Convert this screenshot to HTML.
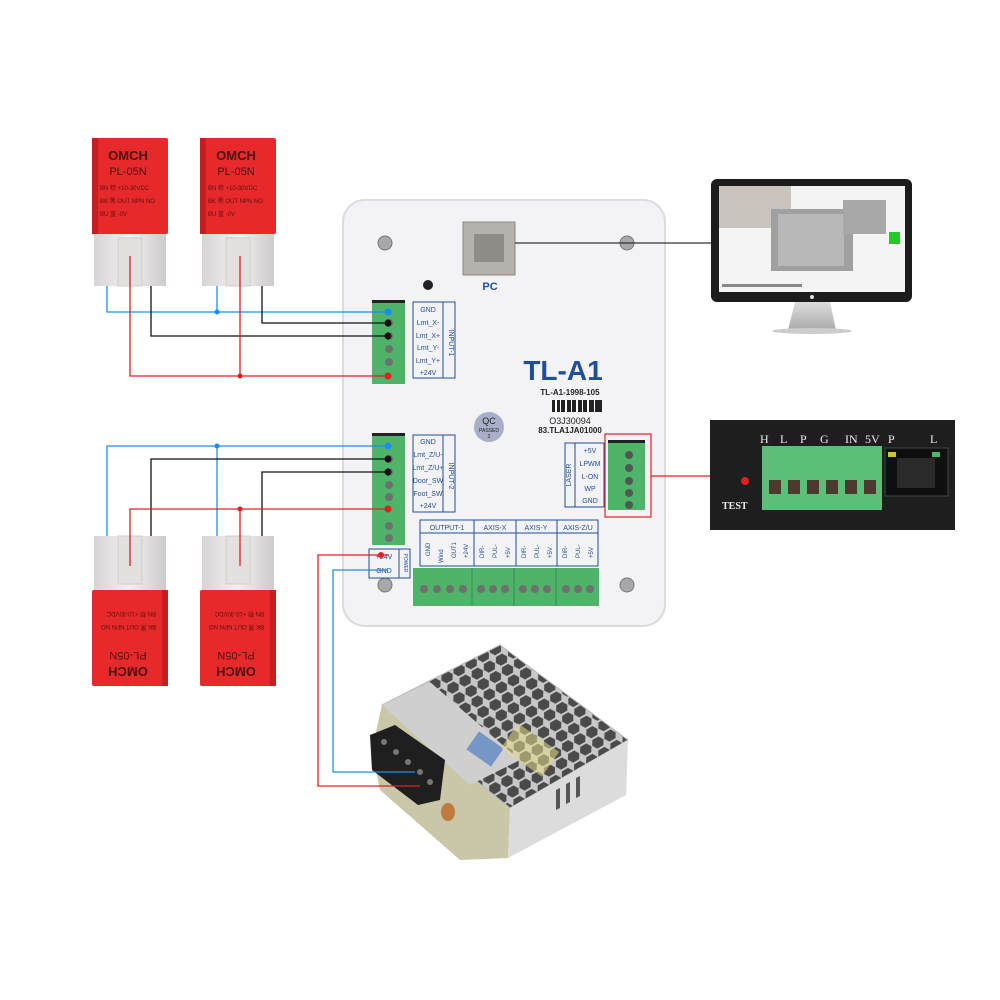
<!DOCTYPE html>
<html><head><meta charset="utf-8"><style>
html,body{margin:0;padding:0;background:#fff;width:1000px;height:1000px;overflow:hidden}
svg{display:block;font-family:"Liberation Sans",sans-serif}
</style></head><body>
<svg width="1000" height="1000" viewBox="0 0 1000 1000" xmlns="http://www.w3.org/2000/svg">
<defs>
<linearGradient id="clear" x1="0" y1="0" x2="1" y2="0"><stop offset="0" stop-color="#d8d4d6"/><stop offset=".5" stop-color="#f2f0f0"/><stop offset="1" stop-color="#cfcacc"/></linearGradient>
<linearGradient id="mon" x1="0" y1="0" x2="0" y2="1"><stop offset="0" stop-color="#ddd"/><stop offset="1" stop-color="#aaa"/></linearGradient>
<pattern id="hex" width="14" height="12" patternUnits="userSpaceOnUse" patternTransform="rotate(-30)">
<rect width="14" height="12" fill="#c8c8c8"/>
<polygon points="3,1 10,1 13,6 10,11 3,11 0,6" fill="#4a4a4a"/>
</pattern>
</defs>

<!-- Sensors top -->
<g id="s1">
<rect x="92" y="138" width="76" height="96" fill="#e8292c" rx="2"/>
<rect x="92" y="138" width="6" height="96" fill="#c51f22"/>
<text x="128" y="160" font-size="13" font-weight="bold" fill="#4a1010" text-anchor="middle">OMCH</text>
<text x="128" y="175" font-size="11" fill="#4a1010" text-anchor="middle">PL-05N</text>
<text x="100" y="190" font-size="6" fill="#5a1010">BN 棕 +10-30VDC</text>
<text x="100" y="203" font-size="6" fill="#5a1010">BK 黑 OUT NPN NO</text>
<text x="100" y="216" font-size="6" fill="#5a1010">BU 蓝 -0V</text>
<rect x="94" y="234" width="72" height="52" fill="url(#clear)"/>
<rect x="118" y="238" width="24" height="48" fill="#e4e0e0" stroke="#d0cccc"/>
</g>
<use href="#s1" x="108"/>

<!-- Sensors bottom -->
<g id="s3">
<rect x="94" y="536" width="72" height="56" fill="url(#clear)"/>
<rect x="118" y="536" width="24" height="48" fill="#e4e0e0" stroke="#d0cccc"/>
<rect x="92" y="590" width="76" height="96" fill="#e8292c" rx="2"/>
<rect x="162" y="590" width="6" height="96" fill="#c51f22"/>
<text x="128" y="675" font-size="13" font-weight="bold" fill="#4a1010" text-anchor="middle" transform="rotate(180 128 671)">OMCH</text>
<text x="128" y="660" font-size="11" fill="#4a1010" text-anchor="middle" transform="rotate(180 128 656)">PL-05N</text>
<text x="100" y="612" font-size="6" fill="#5a1010" transform="rotate(180 128 612)">BN 棕 +10-30VDC</text>
<text x="100" y="625" font-size="6" fill="#5a1010" transform="rotate(180 128 625)">BK 黑 OUT NPN NO</text>
</g>
<use href="#s3" x="108"/>

<!-- Controller -->
<rect x="343" y="200" width="322" height="426" rx="22" fill="#f3f3f5" stroke="#dcdce0" stroke-width="2"/>
<g fill="#a8a8a8" stroke="#777"><circle cx="385" cy="243" r="7"/><circle cx="627" cy="243" r="7"/><circle cx="385" cy="585" r="7"/><circle cx="627" cy="585" r="7"/></g>
<circle cx="428" cy="285" r="5" fill="#222"/>
<rect x="463" y="222" width="52" height="53" fill="#b5b2ad" stroke="#8a8782"/>
<rect x="474" y="234" width="30" height="28" fill="#8f8c88"/>
<text x="490" y="290" font-size="11" font-weight="bold" fill="#1f4e9a" text-anchor="middle">PC</text>
<text x="563" y="380" font-size="28" font-weight="bold" fill="#1f4e9a" text-anchor="middle">TL-A1</text>
<text x="570" y="395" font-size="8" font-weight="bold" fill="#222" text-anchor="middle">TL-A1-1998-105</text>
<g fill="#222"><rect x="552" y="400" width="50" height="12"/></g>
<g fill="#fff"><rect x="555" y="400" width="2" height="12"/><rect x="560" y="400" width="1" height="12"/><rect x="565" y="400" width="2" height="12"/><rect x="571" y="400" width="1" height="12"/><rect x="576" y="400" width="2" height="12"/><rect x="582" y="400" width="1" height="12"/><rect x="587" y="400" width="2" height="12"/><rect x="594" y="400" width="1" height="12"/></g>
<text x="570" y="424" font-size="9" fill="#222" text-anchor="middle">O3J30094</text>
<text x="570" y="433" font-size="8" font-weight="bold" fill="#222" text-anchor="middle">83.TLA1JA01000</text>
<circle cx="489" cy="427" r="15" fill="#a7b0c8"/>
<text x="489" y="424" font-size="9" fill="#222" text-anchor="middle">QC</text>
<text x="489" y="432" font-size="5" fill="#222" text-anchor="middle">PASSED</text>
<text x="489" y="438" font-size="5" fill="#222" text-anchor="middle">2</text>

<!-- Terminals input -->
<g fill="#4fb36a"><rect x="372" y="300" width="33" height="84"/><rect x="372" y="433" width="33" height="112"/></g>
<rect x="372" y="300" width="33" height="3" fill="#222"/><rect x="372" y="433" width="33" height="3" fill="#222"/>
<g fill="#707070">
<circle cx="389" cy="323" r="4"/><circle cx="389" cy="336" r="4"/><circle cx="389" cy="349" r="4"/><circle cx="389" cy="362" r="4"/>
<circle cx="389" cy="459" r="4"/><circle cx="389" cy="472" r="4"/><circle cx="389" cy="485" r="4"/><circle cx="389" cy="497" r="4"/>
<circle cx="389" cy="526" r="4"/><circle cx="389" cy="538" r="4"/></g>
<g font-size="7" fill="#1f4e9a" text-anchor="middle">
<rect x="413" y="302" width="30" height="76" fill="none" stroke="#1f4e9a"/><rect x="443" y="302" width="12" height="76" fill="none" stroke="#1f4e9a"/>
<text x="428" y="312">GND</text><text x="428" y="325">Lmt_X-</text><text x="428" y="338">Lmt_X+</text><text x="428" y="350">Lmt_Y-</text><text x="428" y="363">Lmt_Y+</text><text x="428" y="375">+24V</text>
<text x="452" y="340" transform="rotate(90 449 340)">INPUT-1</text>
<rect x="413" y="435" width="30" height="77" fill="none" stroke="#1f4e9a"/><rect x="443" y="435" width="12" height="77" fill="none" stroke="#1f4e9a"/>
<text x="428" y="444">GND</text><text x="428" y="457">Lmt_Z/U-</text><text x="428" y="470">Lmt_Z/U+</text><text x="428" y="483">Door_SW</text><text x="428" y="496">Foot_SW</text><text x="428" y="508">+24V</text>
<text x="452" y="473" transform="rotate(90 449 473)">INPUT-2</text>
<rect x="369" y="549" width="30" height="29" fill="none" stroke="#1f4e9a"/><rect x="399" y="549" width="11" height="29" fill="none" stroke="#1f4e9a"/>
<text x="384" y="559">+24V</text><text x="384" y="573">GND</text>
<text x="404" y="563" font-size="5" transform="rotate(90 404 563)">POWER</text>
<rect x="565" y="443" width="10" height="64" fill="none" stroke="#1f4e9a"/><rect x="575" y="443" width="29" height="64" fill="none" stroke="#1f4e9a"/>
<text x="590" y="453">+5V</text><text x="590" y="466">LPWM</text><text x="590" y="479">L-ON</text><text x="590" y="491">WP</text><text x="590" y="503">GND</text>
<text x="571" y="475" transform="rotate(-90 571 475)">LASER</text>
<rect x="420" y="520" width="178" height="46" fill="none" stroke="#1f4e9a"/>
<line x1="420" y1="533" x2="598" y2="533" stroke="#1f4e9a"/>
<line x1="474" y1="520" x2="474" y2="566" stroke="#1f4e9a"/><line x1="516" y1="520" x2="516" y2="566" stroke="#1f4e9a"/><line x1="557" y1="520" x2="557" y2="566" stroke="#1f4e9a"/>
<text x="447" y="530">OUTPUT-1</text><text x="495" y="530">AXIS-X</text><text x="536" y="530">AXIS-Y</text><text x="578" y="530">AXIS-Z/U</text>
</g>
<g font-size="6" fill="#1f4e9a">
<text transform="translate(430,556) rotate(-90)">GND</text><text transform="translate(443,563) rotate(-90)">Wind</text><text transform="translate(456,558) rotate(-90)">OUT1</text><text transform="translate(468,558) rotate(-90)">+24V</text>
<text transform="translate(484,558) rotate(-90)">DIR-</text><text transform="translate(497,558) rotate(-90)">PUL-</text><text transform="translate(510,558) rotate(-90)">+5V</text>
<text transform="translate(526,558) rotate(-90)">DIR-</text><text transform="translate(539,558) rotate(-90)">PUL-</text><text transform="translate(552,558) rotate(-90)">+5V</text>
<text transform="translate(567,558) rotate(-90)">DIR-</text><text transform="translate(580,558) rotate(-90)">PUL-</text><text transform="translate(593,558) rotate(-90)">+5V</text>
</g>
<rect x="413" y="568" width="186" height="38" fill="#4fb36a"/>
<g stroke="#3a8a50"><line x1="472" y1="568" x2="472" y2="606"/><line x1="514" y1="568" x2="514" y2="606"/><line x1="556" y1="568" x2="556" y2="606"/></g>
<g fill="#707070">
<circle cx="424" cy="589" r="4"/><circle cx="437" cy="589" r="4"/><circle cx="450" cy="589" r="4"/><circle cx="463" cy="589" r="4"/>
<circle cx="481" cy="589" r="4"/><circle cx="493" cy="589" r="4"/><circle cx="505" cy="589" r="4"/>
<circle cx="523" cy="589" r="4"/><circle cx="535" cy="589" r="4"/><circle cx="547" cy="589" r="4"/>
<circle cx="566" cy="589" r="4"/><circle cx="578" cy="589" r="4"/><circle cx="590" cy="589" r="4"/></g>
<rect x="608" y="440" width="37" height="70" fill="#4fb36a"/><rect x="608" y="440" width="37" height="3" fill="#222"/>
<g fill="#555"><circle cx="629" cy="455" r="4"/><circle cx="629" cy="468" r="4"/><circle cx="629" cy="481" r="4"/><circle cx="629" cy="493" r="4"/><circle cx="629" cy="505" r="4"/></g>
<rect x="605" y="434" width="46" height="83" fill="none" stroke="#e02020" stroke-width="1.2"/>

<!-- Power supply -->
<polygon points="372,750 382,705 510,808 508,858 460,860 380,790" fill="#c9c7a8"/>
<polygon points="382,705 500,645 628,740 510,808" fill="url(#hex)" stroke="#bbb"/>
<polygon points="382,705 430,682 520,760 470,785" fill="#cfcfcf"/>
<rect x="470" y="738" width="30" height="22" fill="#3a6fbf" opacity=".6" transform="rotate(35 485 749)"/>
<rect x="505" y="735" width="50" height="30" fill="#e6dc8a" opacity=".55" transform="rotate(35 530 750)"/>
<polygon points="510,808 628,740 626,795 508,858" fill="#dcdcdc"/>
<g fill="#555">
<polygon points="556,790 560,788 560,808 556,810"/>
<polygon points="566,784 570,782 570,802 566,804"/>
<polygon points="576,778 580,776 580,796 576,798"/>
</g>
<polygon points="370,735 395,725 445,760 440,800 418,805 372,770" fill="#1f1f1f"/>
<g fill="#777"><circle cx="384" cy="742" r="3"/><circle cx="396" cy="752" r="3"/><circle cx="408" cy="762" r="3"/><circle cx="420" cy="772" r="3"/><circle cx="430" cy="782" r="3"/></g>
<ellipse cx="448" cy="812" rx="7" ry="9" fill="#c07a40"/>

<!-- Wires -->
<g fill="none" stroke-width="1.3">
<polyline points="107,286 107,312 388,312" stroke="#1a8ef0"/>
<polyline points="217,286 217,312" stroke="#1a8ef0"/>
<polyline points="151,286 151,336 388,336" stroke="#111"/>
<polyline points="262,286 262,323 388,323" stroke="#111"/>
<polyline points="130,256 130,376 388,376" stroke="#e02020"/>
<polyline points="240,256 240,376" stroke="#e02020"/>
<polyline points="107,536 107,446 388,446" stroke="#1a8ef0"/>
<polyline points="217,536 217,446" stroke="#1a8ef0"/>
<polyline points="151,536 151,459 388,459" stroke="#111"/>
<polyline points="262,536 262,472 388,472" stroke="#111"/>
<polyline points="130,566 130,509 388,509" stroke="#e02020"/>
<polyline points="240,566 240,509" stroke="#e02020"/>
<polyline points="388,555 318,555 318,786 420,786" stroke="#e02020"/>
<polyline points="388,570 333,570 333,772 415,772" stroke="#1a8ef0"/>
<line x1="515" y1="243" x2="720" y2="243" stroke="#333"/>
<line x1="651" y1="476" x2="712" y2="476" stroke="#e02020"/>
</g>
<g><circle cx="388" cy="312" r="3.5" fill="#1a8ef0"/><circle cx="217" cy="312" r="2.5" fill="#1a8ef0"/><circle cx="388" cy="323" r="3.5" fill="#111"/><circle cx="388" cy="336" r="3.5" fill="#111"/><circle cx="388" cy="376" r="3.5" fill="#e02020"/><circle cx="240" cy="376" r="2.5" fill="#e02020"/>
<circle cx="388" cy="446" r="3.5" fill="#1a8ef0"/><circle cx="217" cy="446" r="2.5" fill="#1a8ef0"/><circle cx="388" cy="459" r="3.5" fill="#111"/><circle cx="388" cy="472" r="3.5" fill="#111"/><circle cx="388" cy="509" r="3.5" fill="#e02020"/><circle cx="240" cy="509" r="2.5" fill="#e02020"/><circle cx="381" cy="555" r="3" fill="#e02020"/></g>

<!-- Monitor -->
<path d="M795 302 L830 302 L836 330 L788 330 Z" fill="url(#mon)"/>
<ellipse cx="812" cy="331" rx="40" ry="3" fill="#ccc"/>
<rect x="711" y="179" width="201" height="123" rx="6" fill="#1c1c1c"/>
<rect x="719" y="186" width="186" height="106" fill="#f4f4f4"/>
<rect x="719" y="186" width="72" height="42" fill="#c9c4be"/>
<rect x="771" y="209" width="82" height="62" fill="#a0a0a0"/>
<rect x="778" y="214" width="66" height="52" fill="#b8b8b8"/>
<rect x="843" y="200" width="43" height="34" fill="#a8a8a8"/>
<rect x="889" y="232" width="11" height="12" fill="#22cc22"/>
<rect x="722" y="284" width="80" height="3" fill="#888"/>
<circle cx="812" cy="297" r="2" fill="#ddd"/>

<!-- Laser PSU -->
<rect x="710" y="420" width="245" height="110" fill="#1e1e1e"/>
<g font-family="Liberation Serif,serif" font-size="12" fill="#eee">
<text x="760" y="443">H</text><text x="780" y="443">L</text><text x="800" y="443">P</text><text x="820" y="443">G</text><text x="845" y="443">IN</text><text x="865" y="443">5V</text><text x="888" y="443">P</text><text x="930" y="443">L</text>
<text x="722" y="509" font-size="10" font-weight="bold">TEST</text></g>
<rect x="762" y="446" width="120" height="64" fill="#5bbf78"/>
<g fill="#4a3a30"><rect x="769" y="480" width="12" height="14"/><rect x="788" y="480" width="12" height="14"/><rect x="807" y="480" width="12" height="14"/><rect x="826" y="480" width="12" height="14"/><rect x="845" y="480" width="12" height="14"/><rect x="864" y="480" width="12" height="14"/></g>
<rect x="885" y="448" width="63" height="48" fill="#0f0f0f" stroke="#444"/>
<rect x="897" y="458" width="38" height="30" fill="#2a2a2a"/>
<rect x="888" y="452" width="8" height="5" fill="#c9c23a"/><rect x="932" y="452" width="8" height="5" fill="#4fb36a"/>
<circle cx="745" cy="481" r="4" fill="#e02020"/>
</svg>
</body></html>
